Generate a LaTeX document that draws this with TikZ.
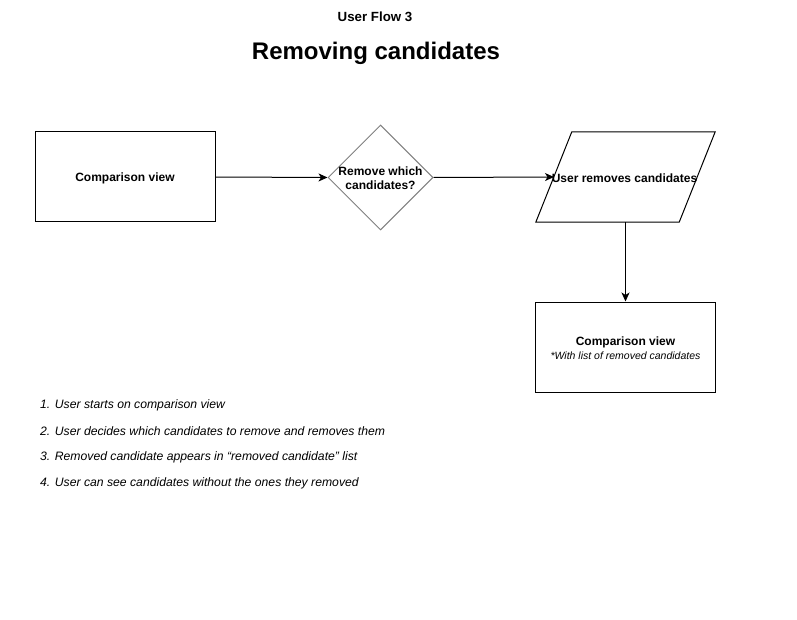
\documentclass[tikz,border=0pt]{standalone}
\usepackage{fontspec}
\setmainfont{Liberation Sans}
\usetikzlibrary{arrows.meta,shapes.geometric}
\begin{document}
\begin{tikzpicture}[x=1pt,y=-1pt,
  boxstyle/.style={draw=black,line width=1pt,rectangle,minimum width=180pt,minimum height=90pt,inner sep=0pt},
  lbl/.style={font=\fontsize{12}{14}\selectfont\bfseries,align=center,inner sep=0pt},
  arr/.style={line width=1pt,-{Stealth[length=9pt,width=8pt,inset=2.5pt]}},
  listitem/.style={font=\fontsize{12.2}{14}\selectfont\itshape,anchor=west,inner sep=0pt}]
\useasboundingbox (0,0) rectangle (797,620);
\fill[white] (0,0) rectangle (797,620);
\node[font=\fontsize{13.3}{15}\selectfont\bfseries,inner sep=0pt] (flow) at (375,17) {User Flow 3};
\node[font=\fontsize{24}{28}\selectfont\bfseries,inner sep=0pt] (title) at (376,53) {Removing candidates};
% box 1
\node[boxstyle] (b1) at (125,177) {};
\node[lbl] (b1t) at (125,178) {Comparison view};
% diamond
\node[diamond,draw=gray,line width=1pt,minimum width=105pt,minimum height=105pt,inner sep=0pt,aspect=1] (d) at (380.5,177.5) {};
\node[lbl] (dt) at (380.5,178.5) {Remove which\\candidates?};
% parallelogram
\node[rectangle,minimum width=179pt,minimum height=90pt,inner sep=0pt] (p) at (625.5,177) {};
\draw[line width=1pt,line join=miter] (p.south west) -- ([xshift=-36pt]p.south east) -- (p.north east) -- ([xshift=36pt]p.north west) -- cycle;
\node[lbl] (pt) at (624.5,178) {User removes candidates};
\coordinate (pin) at (554,177);
% box 2
\node[boxstyle] (b2) at (625.5,347) {};
\node[lbl] (b2t) at (625.5,342) {Comparison view};
\node[font=\fontsize{10.5}{12}\selectfont\itshape,inner sep=0pt] (b2s) at (625.5,356) {*With list of removed candidates};
% connectors
\draw[arr] (b1.east) -- (d.west);
\draw[arr] (d.east) -- (pin);
\draw[arr] (p.south) -- (b2.north);
% list
\node[listitem] (l1) at (40,405) {1. User starts on comparison view};
\node[listitem] (l2) at (40,431) {2. User decides which candidates to remove and removes them};
\node[listitem] (l3) at (40,457) {3. Removed candidate appears in “removed candidate” list};
\node[listitem] (l4) at (40,483) {4. User can see candidates without the ones they removed};
\end{tikzpicture}
\end{document}
